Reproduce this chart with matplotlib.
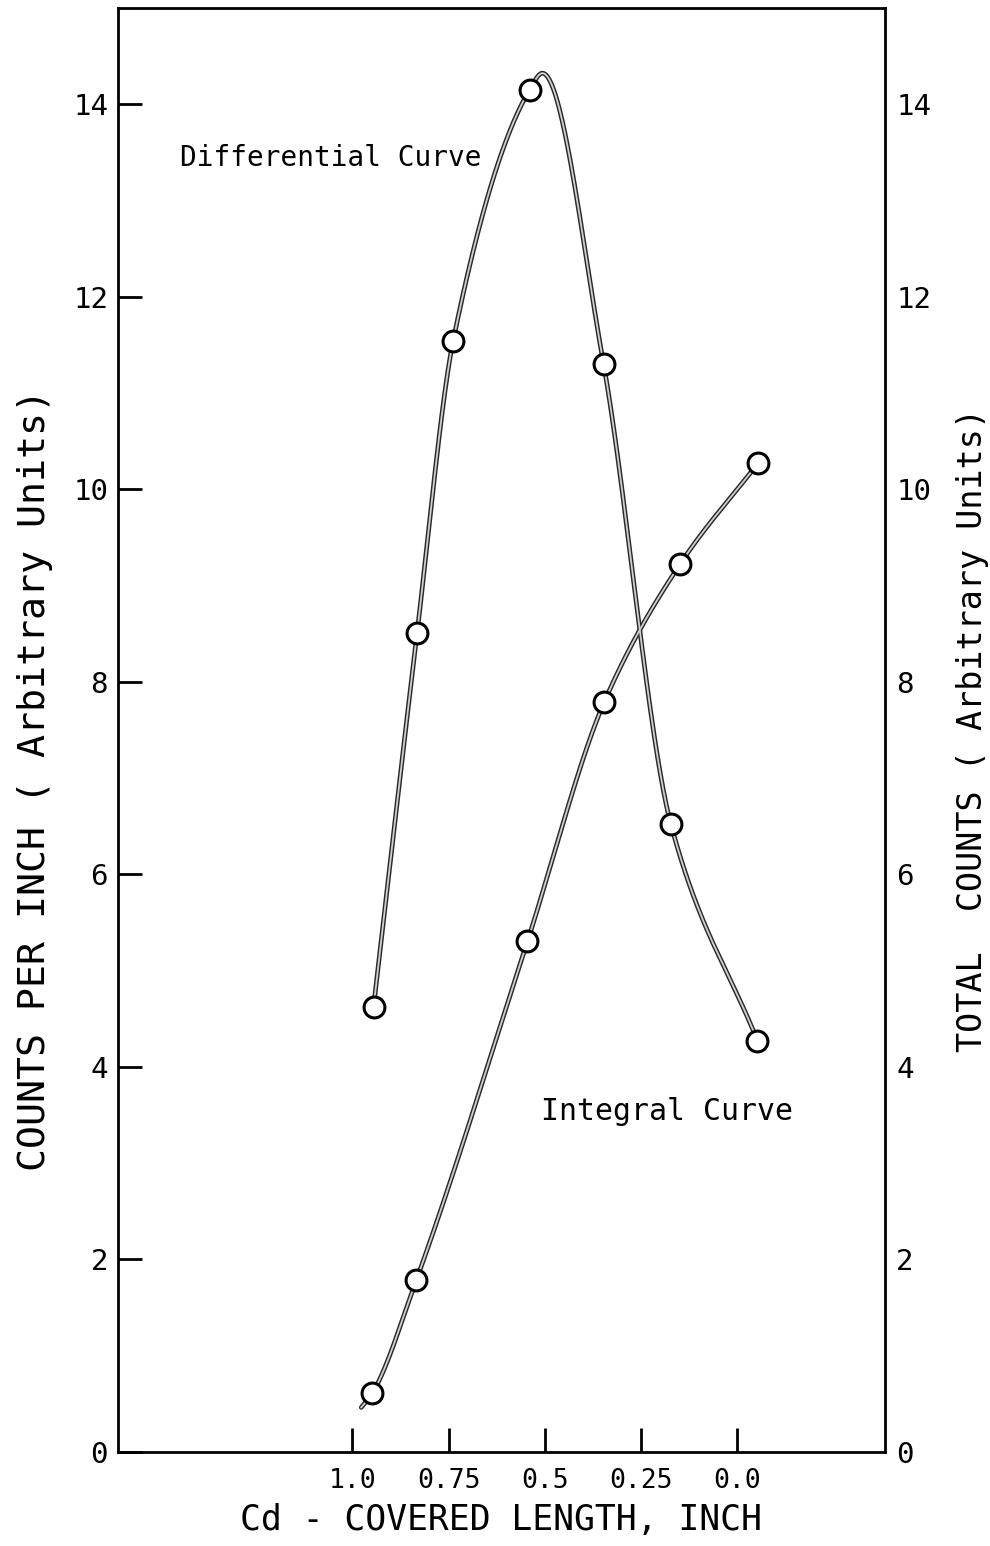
import numpy as np
import matplotlib
matplotlib.use("Agg")
import matplotlib.pyplot as plt

# measured points (Cd-covered length in inch, counts)
diff_x = [0.945, 0.832, 0.738, 0.539, 0.347, 0.172, -0.053]
diff_y = [4.62, 8.50, 11.54, 14.15, 11.30, 6.52, 4.27]
int_x = [0.948, 0.834, 0.545, 0.345, 0.148, -0.055]
int_y = [0.61, 1.78, 5.30, 7.79, 9.22, 10.27]

# hand-drawn curve knots
diff_curve_x = [0.945, 0.832, 0.738, 0.539, 0.506, 0.347, 0.172, -0.053]
diff_curve_y = [4.62, 8.50, 11.54, 14.15, 14.32, 11.30, 6.52, 4.27]
int_curve_x = [0.977, 0.948, 0.834, 0.545, 0.345, 0.148, -0.055]
int_curve_y = [0.46, 0.61, 1.78, 5.30, 7.79, 9.22, 10.27]

x_ticks = [1.0, 0.75, 0.5, 0.25, 0.0]
x_ticklabels = ["1.0", "0.75", "0.5", "0.25", "0.0"]
y_ticks = [0, 2, 4, 6, 8, 10, 12, 14]


def pchip(xs, ys, n=400):
    # monotone cubic (Fritsch-Carlson) through the knots
    order = np.argsort(xs)
    x = np.asarray(xs, float)[order]
    y = np.asarray(ys, float)[order]
    h = np.diff(x)
    delta = np.diff(y) / h
    m = np.zeros_like(x)
    for i in range(1, len(x) - 1):
        if delta[i - 1] * delta[i] > 0:
            w1 = 2 * h[i] + h[i - 1]
            w2 = h[i] + 2 * h[i - 1]
            m[i] = (w1 + w2) / (w1 / delta[i - 1] + w2 / delta[i])
    m[0] = delta[0]
    m[-1] = delta[-1]
    xx = np.linspace(x[0], x[-1], n)
    i = np.clip(np.searchsorted(x, xx, side='right') - 1, 0, len(x) - 2)
    t = (xx - x[i]) / h[i]
    h00 = 2 * t ** 3 - 3 * t ** 2 + 1
    h10 = t ** 3 - 2 * t ** 2 + t
    h01 = -2 * t ** 3 + 3 * t ** 2
    h11 = t ** 3 - t ** 2
    yy = h00 * y[i] + h10 * h[i] * m[i] + h01 * y[i + 1] + h11 * h[i] * m[i + 1]
    return xx, yy


plt.rcParams['font.family'] = ['DejaVu Sans Mono']

fig = plt.figure(figsize=(9.9, 15.46), dpi=100)
ax = fig.add_axes([0.119, 0.061, 0.775, 0.934])

# double-stroke pen look
for cx, cy in [(diff_curve_x, diff_curve_y), (int_curve_x, int_curve_y)]:
    sx, sy = pchip(cx, cy)
    ax.plot(sx, sy, color='#2a2a2a', lw=3.4, solid_capstyle='round', zorder=2)
    ax.plot(sx, sy, color='#cfcfcf', lw=1.3, zorder=3)

ax.plot(diff_x, diff_y, 'o', ms=15, mfc='white', mec='black', mew=2.2, zorder=4)
ax.plot(int_x, int_y, 'o', ms=15, mfc='white', mec='black', mew=2.2, zorder=4)

ax.set_xlim(1.61, -0.385)
ax.set_ylim(0, 15)

ax.set_xticks(x_ticks)
ax.set_xticklabels(x_ticklabels)
ax.set_yticks(y_ticks)
ax.tick_params(axis='x', direction='in', length=17, width=2, pad=12, labelsize=19)
ax.tick_params(axis='y', direction='in', length=17, width=2, pad=7, labelsize=21)

for s in ax.spines.values():
    s.set_linewidth(2)

ax2 = ax.twinx()
ax2.set_ylim(0, 15)
ax2.set_yticks(y_ticks)
ax2.tick_params(axis='y', length=0, pad=8, labelsize=21)
for s in ax2.spines.values():
    s.set_visible(False)

ax.set_ylabel("COUNTS PER INCH ( Arbitrary Units)", fontsize=27.5)
ax.yaxis.set_label_coords(-0.085, 0.465)
ax2.set_ylabel("TOTAL  COUNTS ( Arbitrary Units)", fontsize=24, labelpad=18)
ax.set_xlabel("Cd - COVERED LENGTH, INCH", fontsize=25, labelpad=6)

ax.text(1.447, 13.44, "Differential Curve", fontsize=20, ha='left', va='center')
ax.text(0.509, 3.53, "Integral Curve", fontsize=21.5, ha='left', va='center')

fig.savefig("out.png", dpi=100)
